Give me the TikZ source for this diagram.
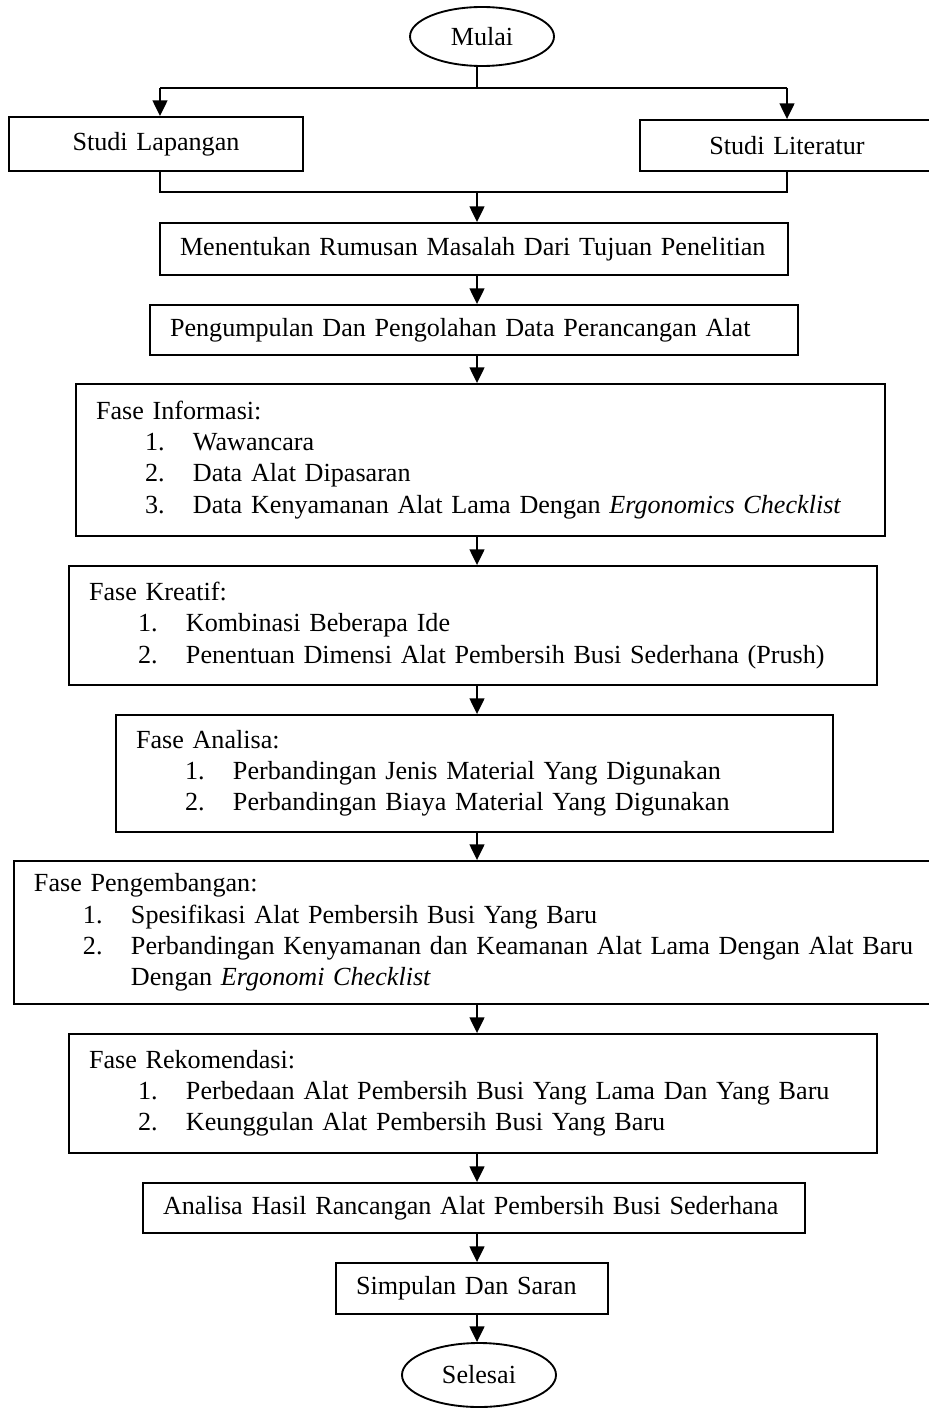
\documentclass[tikz,border=0pt]{standalone}
\usepackage{fontspec}
\setmainfont{Liberation Serif}
\usetikzlibrary{arrows.meta, shapes.geometric}

\newdimen\px
\px=0.016cm
\newcommand{\butir}[2]{\hspace*{49\px}\makebox[48\px][l]{#1}#2}
\newcommand{\lanjut}[1]{\hspace*{97\px}#1}

\tikzset{
    kotak/.style 2 args={shape=rectangle, inner xsep=20*\px, inner ysep=0pt,
        minimum width=#1*\px, minimum height=#2*\px,
        text width=#1*\px-40*\px, align=left},
    lonjong/.style 2 args={shape=ellipse, inner sep=0pt,
        minimum width=#1*\px, minimum height=#2*\px},
}

\begin{document}
\begin{tikzpicture}[x=\px, y=-\px, font=\fontsize{11.9pt}{14.2pt}\selectfont]
\useasboundingbox (0, 0) rectangle (928, 1409);

\begin{scope}[every node/.style={draw, line width=0.85pt}]
    \node (mulai) at (482, 36.5) [lonjong={144}{59}] {Mulai};

    \node (lapangan) at (156, 144) [kotak={294}{54}, align=center] {Studi Lapangan};
    \node (literatur) at (787, 145.5) [kotak={294}{51}, align=center] {Studi Literatur};

    \node (menentukan) at (474, 249) [kotak={628}{52}] {\mbox{Menentukan Rumusan Masalah Dari Tujuan Penelitian}};
    \node (pengumpulan) at (474, 330) [kotak={648}{50}] {\mbox{Pengumpulan Dan Pengolahan Data Perancangan Alat}};

    \node (informasi) at (480.5, 460) [kotak={809}{152}] {Fase Informasi:\\
        \butir{1.}{Wawancara}\\
        \butir{2.}{Data Alat Dipasaran}\\
        \butir{3.}{Data Kenyamanan Alat Lama Dengan \emph{Ergonomics Checklist}}};

    \node (kreatif) at (473, 625.5) [kotak={808}{119}] {Fase Kreatif:\\
        \butir{1.}{Kombinasi Beberapa Ide}\\
        \butir{2.}{Penentuan Dimensi Alat Pembersih Busi Sederhana (Prush)}};

    \node (analisa) at (474.5, 773.5) [kotak={717}{117}] {Fase Analisa:\\
        \butir{1.}{Perbandingan Jenis Material Yang Digunakan}\\
        \butir{2.}{Perbandingan Biaya Material Yang Digunakan}};

    \node (pengembangan) at (478, 932.5) [kotak={928}{143}] {Fase Pengembangan:\\
        \butir{1.}{Spesifikasi Alat Pembersih Busi Yang Baru}\\
        \butir{2.}{Perbandingan Kenyamanan dan Keamanan Alat Lama Dengan Alat Baru}\\
        \lanjut{Dengan \emph{Ergonomi Checklist}}};

    \node (rekomendasi) at (473, 1093.5) [kotak={808}{119}] {Fase Rekomendasi:\\
        \butir{1.}{Perbedaan Alat Pembersih Busi Yang Lama Dan Yang Baru}\\
        \butir{2.}{Keunggulan Alat Pembersih Busi Yang Baru}};

    \node (hasil) at (474, 1208) [kotak={662}{50}] {\mbox{Analisa Hasil Rancangan Alat Pembersih Busi Sederhana}};
    \node (simpulan) at (472, 1288.5) [kotak={272}{51}] {Simpulan Dan Saran};

    \node (selesai) at (479, 1375) [lonjong={154}{64}] {Selesai};
\end{scope}

% titik bantu untuk percabangan
\coordinate (poros) at (477, 0);
\coordinate (cabangkiri) at (160, 88);
\coordinate (cabangkanan) at (787, 88);
\coordinate (gabung) at (477, 192);
\coordinate (gabungkiri) at (160, 192);
\coordinate (gabungkanan) at (787, 192);

\begin{scope}[>={Triangle[length=7.2pt, width=6.8pt]},
              every edge/.style={draw, line width=0.85pt}]
    \draw [line width=0.85pt] (mulai.south -| poros) -- (poros |- cabangkiri);
    \draw [line width=0.85pt] (cabangkiri) -- (cabangkanan);
    \path [->] (cabangkiri) edge (lapangan.north -| cabangkiri);
    \path [->] (cabangkanan) edge (literatur.north -| cabangkanan);

    \draw [line width=0.85pt] (lapangan.south -| gabungkiri) -- (gabungkiri)
        -- (gabungkanan) -- (literatur.south -| gabungkanan);
    \path [->] (gabung) edge (menentukan.north -| poros);

    \path [->] (menentukan.south -| poros) edge (pengumpulan.north -| poros);
    \path [->] (pengumpulan.south -| poros) edge (informasi.north -| poros);
    \path [->] (informasi.south -| poros) edge (kreatif.north -| poros);
    \path [->] (kreatif.south -| poros) edge (analisa.north -| poros);
    \path [->] (analisa.south -| poros) edge (pengembangan.north -| poros);
    \path [->] (pengembangan.south -| poros) edge (rekomendasi.north -| poros);
    \path [->] (rekomendasi.south -| poros) edge (hasil.north -| poros);
    \path [->] (hasil.south -| poros) edge (simpulan.north -| poros);
    \path [->] (simpulan.south -| poros) edge (selesai.north -| poros);
\end{scope}
\end{tikzpicture}
\end{document}
